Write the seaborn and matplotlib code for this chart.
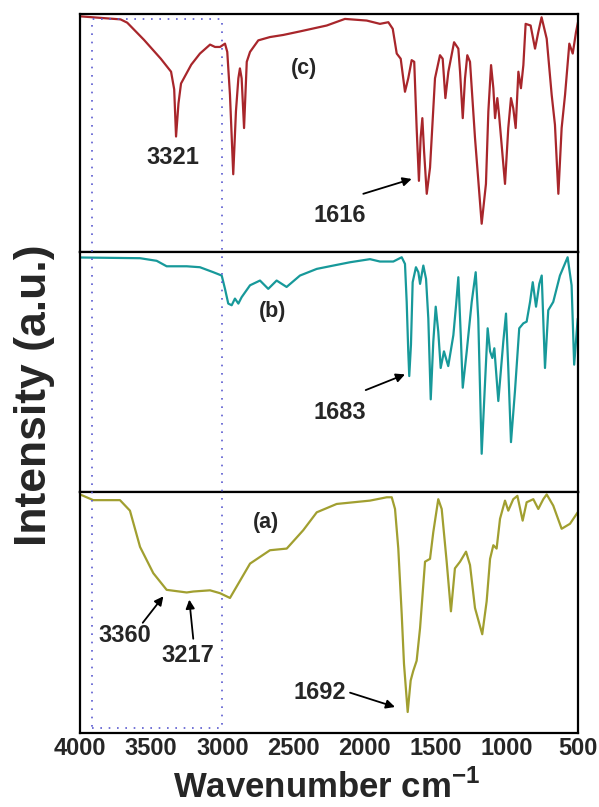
import numpy as np
import pandas as pd
import seaborn as sns
import matplotlib
matplotlib.use("Agg")
import matplotlib.pyplot as plt
from matplotlib.patches import Rectangle
from matplotlib.transforms import blended_transform_factory

# ---------------- data ----------------
wn_c = [4000, 3715, 3668, 3550, 3432, 3360, 3338, 3325, 3308, 3290, 3218, 3157, 3086, 3051,
        3016, 2981, 2965, 2946, 2923, 2904, 2887, 2876, 2864, 2847, 2828, 2805, 2747, 2665,
        2571, 2454, 2266, 2138, 1985, 1892, 1833, 1802, 1774, 1746, 1716, 1693, 1669, 1651,
        1634, 1618, 1606, 1594, 1582, 1563, 1540, 1505, 1470, 1451, 1432, 1411, 1371, 1341,
        1329, 1310, 1294, 1278, 1259, 1224, 1177, 1147, 1130, 1111, 1095, 1083, 1067, 1055,
        1013, 990, 971, 955, 938, 919, 901, 884, 868, 833, 802, 779, 756, 720,
        685, 662, 638, 615, 591, 561, 537, 514, 500]
int_c = [100, 98.7, 97.3, 90, 82, 76.5, 69, 49, 63, 71.5, 79.5, 84.2, 88, 87,
         87, 88.4, 84.9, 66.7, 33, 59.7, 73.7, 77.9, 73.7, 52.6, 80.7, 84.9, 89.8, 91.2,
         92.1, 93.6, 96.1, 98.9, 98.2, 96.8, 97.5, 94.7, 84.2, 82, 68, 73.7, 81.4, 80.7,
         52.6, 30.2, 48.5, 56.8, 42.9, 24.7, 35.8, 73.7, 83.5, 82, 65.3, 76.5, 89, 86.3,
         76.5, 56.8, 73.7, 83.5, 80.7, 48.5, 12, 28.9, 59.7, 79.3, 69.5, 56.8, 65.3, 58.3,
         28.9, 52.6, 65.3, 61, 52.6, 76.5, 69.5, 79.3, 96.8, 96.1, 86.3, 93.3, 99.6, 90.5,
         66.7, 54, 24.7, 52.6, 66.7, 88.4, 84.2, 93.3, 97.5]

wn_b = [4000, 3578, 3461, 3391, 3250, 3157, 3063, 3004, 2981, 2958, 2934, 2911, 2887, 2864,
        2805, 2735, 2677, 2618, 2548, 2454, 2336, 2220, 2102, 1962, 1892, 1798, 1739, 1716,
        1704, 1693, 1686, 1674, 1662, 1639, 1622, 1610, 1587, 1568, 1552, 1535, 1517, 1500,
        1482, 1465, 1442, 1412, 1376, 1357, 1341, 1324, 1310, 1282, 1247, 1219, 1201, 1177,
        1154, 1135, 1118, 1102, 1088, 1060, 1025, 1006, 990, 971, 943, 913, 884, 861,
        837, 818, 795, 772, 755, 732, 709, 674, 627, 573, 545, 527, 502]
int_b = [98.7, 98.4, 97.3, 95, 95, 94.6, 92.5, 91.1, 85.5, 79.3, 78.6, 81.4, 79.3, 82,
         87, 89, 85.5, 89, 86.3, 91.1, 93.9, 95.3, 96.7, 98, 97, 97, 98.8, 96,
         80, 59.2, 48.8, 62, 88.3, 94.6, 92.5, 87.6, 95.3, 89.7, 73, 39, 63.3, 78,
         67.5, 52.2, 59.2, 53, 66, 78.6, 90.4, 66, 43.9, 59.2, 80, 92.5, 73, 16.1,
         45.3, 68.9, 59.2, 56.4, 60.5, 38.3, 63.3, 75.1, 52.2, 21, 42.5, 68.9, 71, 71.7,
         80, 88.3, 78, 87.6, 91.1, 52.2, 76.5, 80, 91.1, 98.8, 87, 53.6, 73]

wn_a = [4000, 3907, 3719, 3649, 3578, 3485, 3391, 3250, 3204, 3086, 3016, 2946, 2805, 2665,
        2547, 2431, 2336, 2196, 1962, 1844, 1809, 1786, 1763, 1739, 1723, 1697, 1676, 1658,
        1634, 1610, 1575, 1540, 1517, 1482, 1458, 1423, 1393, 1365, 1329, 1287, 1259, 1224,
        1173, 1142, 1118, 1095, 1072, 1048, 1013, 990, 955, 926, 889, 861, 814, 779,
        744, 720, 674, 615, 556, 502]
int_a = [100, 97.6, 97.6, 93.2, 78, 67, 60, 58.9, 59.3, 59.8, 58.6, 56.6, 71, 76.6,
         77.3, 85, 92.5, 96, 97.4, 98.8, 98.8, 93.9, 77.3, 49.8, 29, 8.8, 22, 26,
         30.3, 44, 71.8, 73, 84.2, 98, 93.9, 71.8, 51, 69, 71.8, 76, 70.4, 52.4,
         41.4, 55.2, 73, 78.7, 77.3, 89.8, 97.4, 93.2, 98, 99.4, 89, 96.7, 98, 93.9,
         98, 100, 95.3, 85.6, 87.7, 92.5]

xticks = [4000, 3500, 3000, 2500, 2000, 1500, 1000, 500]
panel_labels = ["(c)", "(b)", "(a)"]
colors = ["#a8262b", "#17999a", "#a19f30"]

# ---------------- style ----------------
sns.set_style("white")
plt.rcParams["font.family"] = ["Liberation Sans", "DejaVu Sans"]
plt.rcParams["mathtext.fontset"] = "custom"
plt.rcParams["mathtext.rm"] = "Liberation Sans"
plt.rcParams["mathtext.bf"] = "Liberation Sans:bold"

fig = plt.figure(figsize=(5.99, 8.07), dpi=100)
L, W = 80 / 599, 498 / 599
bounds = [(0.6877, 0.9827), (0.3903, 0.6877), (0.0917, 0.3903)]
axes = []
for (y0, y1) in bounds:
    ax = fig.add_axes([L, y0, W, y1 - y0])
    axes.append(ax)

data = [(wn_c, int_c), (wn_b, int_b), (wn_a, int_a)]
for ax, (wn, it), col in zip(axes, data, colors):
    df = pd.DataFrame({"wn": wn, "I": it})
    sns.lineplot(data=df, x="wn", y="I", ax=ax, color=col, lw=1.6, sort=False)
    ax.set_xlim(4000, 500)
    ax.set_ylim(0, 101)
    ax.set_yticks([])
    ax.set_xlabel("")
    ax.set_ylabel("")
    for s in ax.spines.values():
        s.set_linewidth(1.6)
        s.set_color("black")
    ax.set_xticks(xticks)
    ax.tick_params(axis="x", length=0)

for ax in axes[:2]:
    ax.set_xticklabels([])
axes[2].set_xticklabels([str(t) for t in xticks], fontsize=17, fontweight="bold")
axes[2].tick_params(axis="x", pad=3)

# panel labels
lab_pos = [(2426, 77.9), (2648, 75.8), (2693, 88.4)]
for ax, lab, (x, y) in zip(axes, panel_labels, lab_pos):
    ax.text(x, y, lab, fontsize=15.5, fontweight="bold", ha="center", va="center")

arrow_kw = dict(arrowstyle="-|>", color="black", lw=1.3, mutation_scale=13,
                shrinkA=0, shrinkB=0)
txt_kw = dict(fontsize=17, fontweight="bold", ha="center", va="center")

# (c)
axes[0].text(3349, 40, "3321", **txt_kw)
axes[0].text(2177, 15.5, "1616", **txt_kw)
axes[0].annotate("", xy=(1669, 31), xytext=(2009, 24.7), arrowprops=arrow_kw)
# (b)
axes[1].text(2177, 33.5, "1683", **txt_kw)
axes[1].annotate("", xy=(1716, 49.5), xytext=(1992, 42.9), arrowprops=arrow_kw)
# (a)
axes[2].text(3684, 40.7, "3360", **txt_kw)
axes[2].annotate("", xy=(3414, 57.3), xytext=(3559, 46.2), arrowprops=arrow_kw)
axes[2].text(3239, 32.4, "3217", **txt_kw)
axes[2].annotate("", xy=(3232, 55.9), xytext=(3204, 39.5), arrowprops=arrow_kw)
axes[2].text(2313, 17.1, "1692", **txt_kw)
axes[2].annotate("", xy=(1786, 10.9), xytext=(2102, 16.9), arrowprops=arrow_kw)

# dotted box spanning all panels
tr = blended_transform_factory(axes[2].transData, fig.transFigure)
rect = Rectangle((3918, 0.0979), 3000 - 3918, 0.9761 - 0.0979, transform=tr,
                 fill=False, edgecolor="#5a5ad0", lw=1.2, linestyle=(0, (1, 4)),
                 clip_on=False, zorder=5)
fig.add_artist(rect)

fig.text(0.058, 0.5105, "Intensity (a.u.)", rotation=90, fontsize=32,
         fontweight="bold", ha="center", va="center")
fig.text(0.546, 0.012, r"Wavenumber cm$^{\mathbf{-1}}$", fontsize=25,
         fontweight="bold", ha="center", va="baseline")

fig.savefig("out.png", dpi=100)
